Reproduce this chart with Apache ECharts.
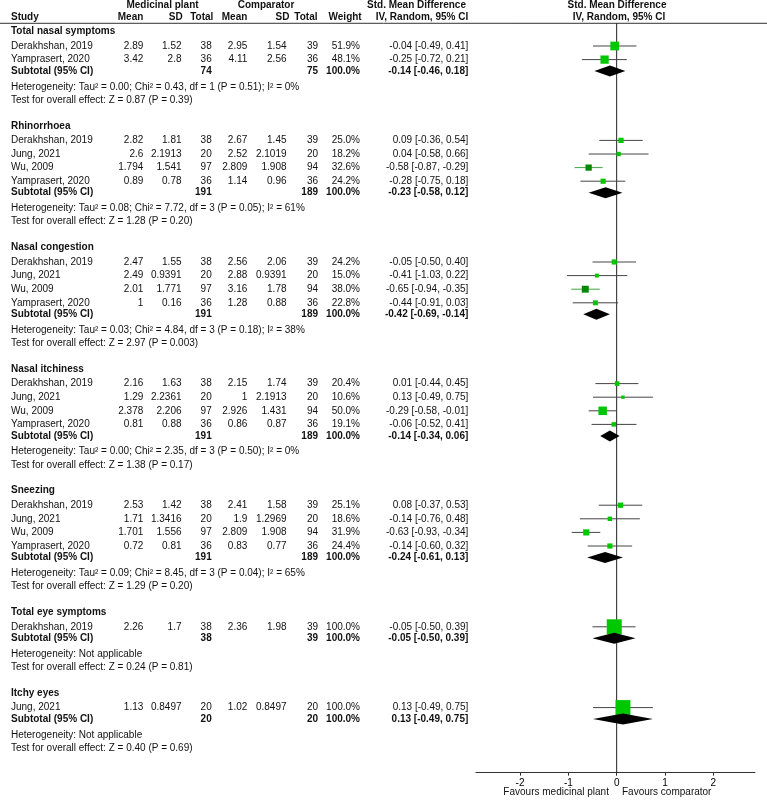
<!DOCTYPE html>
<html>
<head>
<meta charset="utf-8">
<script src="https://cdn.jsdelivr.net/npm/echarts@6/dist/echarts.min.js"></script>
<style>html,body{margin:0;padding:0;background:#fff}#c{width:767px;height:800px}</style>
</head>
<body>
<div id="c"></div>
<script>
// ---------- DATA ----------
const groups = ["Total nasal symptoms","Rhinorrhoea","Nasal congestion","Nasal itchiness","Sneezing","Total eye symptoms","Itchy eyes"];
const studies = [
  ["Derakhshan, 2019","Yamprasert, 2020"],
  ["Derakhshan, 2019","Jung, 2021","Wu, 2009","Yamprasert, 2020"],
  ["Derakhshan, 2019","Jung, 2021","Wu, 2009","Yamprasert, 2020"],
  ["Derakhshan, 2019","Jung, 2021","Wu, 2009","Yamprasert, 2020"],
  ["Derakhshan, 2019","Jung, 2021","Wu, 2009","Yamprasert, 2020"],
  ["Derakhshan, 2019"],
  ["Jung, 2021"]
];
const mpMean = [[2.89,3.42],[2.82,2.6,1.794,0.89],[2.47,2.49,2.01,1],[2.16,1.29,2.378,0.81],[2.53,1.71,1.701,0.72],[2.26],[1.13]];
const mpSD   = [[1.52,2.8],[1.81,2.1913,1.541,0.78],[1.55,0.9391,1.771,0.16],[1.63,2.2361,2.206,0.88],[1.42,1.3416,1.556,0.81],[1.7],[0.8497]];
const mpN    = [[38,36],[38,20,97,36],[38,20,97,36],[38,20,97,36],[38,20,97,36],[38],[20]];
const cMean  = [[2.95,4.11],[2.67,2.52,2.809,1.14],[2.56,2.88,3.16,1.28],[2.15,1,2.926,0.86],[2.41,1.9,2.809,0.83],[2.36],[1.02]];
const cSD    = [[1.54,2.56],[1.45,2.1019,1.908,0.96],[2.06,0.9391,1.78,0.88],[1.74,2.1913,1.431,0.87],[1.58,1.2969,1.908,0.77],[1.98],[0.8497]];
const cN     = [[39,36],[39,20,94,36],[39,20,94,36],[39,20,94,36],[39,20,94,36],[39],[20]];
const weight = [[51.9,48.1],[25.0,18.2,32.6,24.2],[24.2,15.0,38.0,22.8],[20.4,10.6,50.0,19.1],[25.1,18.6,31.9,24.4],[100.0],[100.0]];
const smd    = [[-0.04,-0.25],[0.09,0.04,-0.58,-0.28],[-0.05,-0.41,-0.65,-0.44],[0.01,0.13,-0.29,-0.06],[0.08,-0.14,-0.63,-0.14],[-0.05],[0.13]];
const ciLow  = [[-0.49,-0.72],[-0.36,-0.58,-0.87,-0.75],[-0.50,-1.03,-0.94,-0.91],[-0.44,-0.49,-0.58,-0.52],[-0.37,-0.76,-0.93,-0.60],[-0.50],[-0.49]];
const ciHigh = [[0.41,0.21],[0.54,0.66,-0.29,0.18],[0.40,0.22,-0.35,0.03],[0.45,0.75,-0.01,0.41],[0.53,0.48,-0.34,0.32],[0.39],[0.75]];
const subTotalMP = [74,191,191,191,191,38,20];
const subTotalC  = [75,189,189,189,189,39,20];
const subSMD  = [-0.14,-0.23,-0.42,-0.14,-0.24,-0.05,0.13];
const subLow  = [-0.46,-0.58,-0.69,-0.34,-0.61,-0.50,-0.49];
const subHigh = [0.18,0.12,-0.14,0.06,0.13,0.39,0.75];
const hetText = [
  "Heterogeneity: Tau\u00b2 = 0.00; Chi\u00b2 = 0.43, df = 1 (P = 0.51); I\u00b2 = 0%",
  "Heterogeneity: Tau\u00b2 = 0.08; Chi\u00b2 = 7.72, df = 3 (P = 0.05); I\u00b2 = 61%",
  "Heterogeneity: Tau\u00b2 = 0.03; Chi\u00b2 = 4.84, df = 3 (P = 0.18); I\u00b2 = 38%",
  "Heterogeneity: Tau\u00b2 = 0.00; Chi\u00b2 = 2.35, df = 3 (P = 0.50); I\u00b2 = 0%",
  "Heterogeneity: Tau\u00b2 = 0.09; Chi\u00b2 = 8.45, df = 3 (P = 0.04); I\u00b2 = 65%",
  "Heterogeneity: Not applicable",
  "Heterogeneity: Not applicable"
];
const testText = [
  "Test for overall effect: Z = 0.87 (P = 0.39)",
  "Test for overall effect: Z = 1.28 (P = 0.20)",
  "Test for overall effect: Z = 2.97 (P = 0.003)",
  "Test for overall effect: Z = 1.38 (P = 0.17)",
  "Test for overall effect: Z = 1.29 (P = 0.20)",
  "Test for overall effect: Z = 0.24 (P = 0.81)",
  "Test for overall effect: Z = 0.40 (P = 0.69)"
];
const xTicks = [-2,-1,0,1,2];
const favourLeft = "Favours medicinal plant";
const favourRight = "Favours comparator";
// style: studies drawn with dark green markers (group index, study index)
const darkMarks = ["1-2","2-2"];

// ---------- LAYOUT ----------
const FONT = "'Liberation Sans', Arial, Helvetica, sans-serif";
const COL = {study:11, mpMean:143.3, mpSD:181.5, mpN:211.7, cMean:247.3, cSD:286.5, cN:318, w:360, ci:468.3};
const HEAD1 = 5.5, HEAD2 = 17.3, RULE = 23.3, AXIS_Y = 772.7;
const L = {start:31.5, toStudy:14.5, pitch:13.6, toSub:11.5, toHet:15.8, toTest:13.2, gap:25.8};

const texts = [];   // {x, y, t, align, bold}
const ciLines = []; // {lo, hi, y, dark}
const squares = []; // {est, y, size, dark}
const diamonds = [];// {lo, est, hi, y}

function T(x, y, t, align, bold){ texts.push({x, y, t:String(t), align, bold:!!bold}); }

// headers
T(162.5, HEAD1, "Medicinal plant", "center", true);
T(266, HEAD1, "Comparator", "center", true);
T(416.5, HEAD1, "Std. Mean Difference", "center", true);
T(617, HEAD1, "Std. Mean Difference", "center", true);
T(COL.study, HEAD2, "Study", "left", true);
T(143.3, HEAD2, "Mean", "right", true);
T(182.7, HEAD2, "SD", "right", true);
T(213.3, HEAD2, "Total", "right", true);
T(247.3, HEAD2, "Mean", "right", true);
T(289.5, HEAD2, "SD", "right", true);
T(317.5, HEAD2, "Total", "right", true);
T(361.7, HEAD2, "Weight", "right", true);
T(422, HEAD2, "IV, Random, 95% CI", "center", true);
T(619, HEAD2, "IV, Random, 95% CI", "center", true);

const f2 = v => v.toFixed(2);
const ciStr = (e,l,h) => f2(e) + " [" + f2(l) + ", " + f2(h) + "]";

let y = L.start;
groups.forEach((g, gi) => {
  T(COL.study, y, g, "left", true);
  let sy = y + L.toStudy;
  const n = studies[gi].length;
  const wsum = 100;
  for (let i = 0; i < n; i++) {
    const ry = sy + L.pitch * i;
    T(COL.study, ry, studies[gi][i], "left");
    T(COL.mpMean, ry, mpMean[gi][i], "right");
    T(COL.mpSD, ry, mpSD[gi][i], "right");
    T(COL.mpN, ry, mpN[gi][i], "right");
    T(COL.cMean, ry, cMean[gi][i], "right");
    T(COL.cSD, ry, cSD[gi][i], "right");
    T(COL.cN, ry, cN[gi][i], "right");
    T(COL.w, ry, weight[gi][i].toFixed(1) + "%", "right");
    T(COL.ci, ry, ciStr(smd[gi][i], ciLow[gi][i], ciHigh[gi][i]), "right");
    const dark = darkMarks.indexOf(gi + "-" + i) >= 0;
    ciLines.push({lo:ciLow[gi][i], hi:ciHigh[gi][i], y:ry, dark});
    squares.push({est:smd[gi][i], y:ry, size:2 + 13 * weight[gi][i] / wsum, dark});
  }
  const subY = sy + L.pitch * (n - 1) + L.toSub;
  T(COL.study, subY, "Subtotal (95% CI)", "left", true);
  T(COL.mpN, subY, subTotalMP[gi], "right", true);
  T(COL.cN, subY, subTotalC[gi], "right", true);
  T(COL.w, subY, "100.0%", "right", true);
  T(COL.ci, subY, ciStr(subSMD[gi], subLow[gi], subHigh[gi]), "right", true);
  diamonds.push({lo:subLow[gi], est:subSMD[gi], hi:subHigh[gi], y:subY});
  const hy = subY + L.toHet;
  T(COL.study, hy, hetText[gi], "left");
  const ty = hy + L.toTest;
  T(COL.study, ty, testText[gi], "left");
  y = ty + L.gap;
});

// ---------- CHART ----------
const chart = echarts.init(document.getElementById('c'), null, {renderer:'canvas'});
const X_MIN = -2.912, X_MAX = 2.864;

chart.setOption({
  animation:false,
  backgroundColor:'#fff',
  grid:{left:476, right:12, top:0, bottom:800 - AXIS_Y, containLabel:false},
  xAxis:{
    type:'value', min:X_MIN, max:X_MAX,
    splitLine:{show:false},
    axisLine:{show:true, onZero:false, lineStyle:{color:'#333', width:1}},
    axisTick:{show:true, customValues:xTicks, length:3, lineStyle:{color:'#333'}},
    axisLabel:{show:true, customValues:xTicks, margin:6, color:'#000', fontSize:10, fontFamily:FONT,
      formatter: v => String(v)}
  },
  yAxis:{type:'value', inverse:true, min:0, max:AXIS_Y, show:false},
  series:[
    { // rules: header line + zero line
      type:'custom', clip:false, silent:true,
      data:[[0, RULE]],
      renderItem:(params, api) => {
        const top = api.coord([0, RULE]);
        const bot = api.coord([0, AXIS_Y]);
        return {type:'group', children:[
          {type:'line', shape:{x1:0, y1:top[1], x2:767, y2:top[1]}, style:{stroke:'#333', lineWidth:1}},
          {type:'line', shape:{x1:top[0], y1:top[1], x2:bot[0], y2:bot[1]}, style:{stroke:'#222', lineWidth:1}}
        ]};
      }
    },
    { // CI lines
      type:'custom', clip:false, silent:true,
      data:ciLines.map(d => [d.lo, d.y, d.hi]),
      renderItem:(params, api) => {
        const d = ciLines[params.dataIndex];
        const a = api.coord([d.lo, d.y]), b = api.coord([d.hi, d.y]);
        return {type:'line', shape:{x1:a[0], y1:a[1], x2:b[0], y2:b[1]},
          style:{stroke:d.dark ? '#3fa53f' : '#444', lineWidth:1}};
      }
    },
    { // squares
      type:'custom', clip:false, silent:true,
      data:squares.map(d => [d.est, d.y]),
      renderItem:(params, api) => {
        const d = squares[params.dataIndex];
        const c = api.coord([d.est, d.y]);
        const s = d.size;
        return {type:'rect', shape:{x:c[0] - s/2, y:c[1] - s/2, width:s, height:s},
          style:{fill:d.dark ? '#008a00' : '#00c800'}};
      }
    },
    { // diamonds
      type:'custom', clip:false, silent:true,
      data:diamonds.map(d => [d.est, d.y]),
      renderItem:(params, api) => {
        const d = diamonds[params.dataIndex];
        const l = api.coord([d.lo, d.y]), e = api.coord([d.est, d.y]), h = api.coord([d.hi, d.y]);
        const hh = 5.5;
        return {type:'polygon', shape:{points:[[l[0], l[1]], [e[0], e[1] - hh], [h[0], h[1]], [e[0], e[1] + hh]]},
          style:{fill:'#000'}};
      }
    },
    { // table text
      type:'custom', clip:false, silent:true,
      data:texts.map(d => [0, d.y]),
      renderItem:(params, api) => {
        const d = texts[params.dataIndex];
        const c = api.coord([0, d.y]);
        return {type:'text', x:d.x, y:c[1],
          style:{text:d.t, fill:'#111', font:(d.bold ? 'bold ' : '') + '10px ' + FONT,
            textAlign:d.align, textVerticalAlign:'middle'}};
      }
    },
    { // favours labels
      type:'custom', clip:false, silent:true,
      data:[[0, AXIS_Y]],
      renderItem:(params, api) => {
        const c = api.coord([0, AXIS_Y]);
        const ly = c[1] + 19.8;
        return {type:'group', children:[
          {type:'text', x:c[0] - 7.7, y:ly, style:{text:favourLeft, fill:'#111', font:'10px ' + FONT, textAlign:'right', textVerticalAlign:'middle'}},
          {type:'text', x:c[0] + 5.3, y:ly, style:{text:favourRight, fill:'#111', font:'10px ' + FONT, textAlign:'left', textVerticalAlign:'middle'}}
        ]};
      }
    }
  ]
});
</script>
</body>
</html>
